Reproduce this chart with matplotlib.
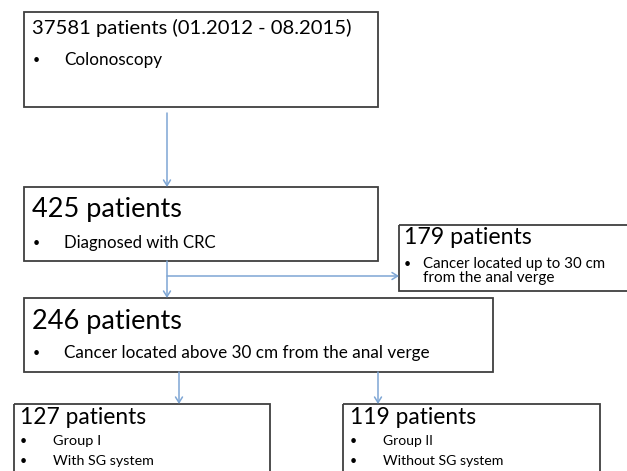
import matplotlib
matplotlib.use("Agg")
import matplotlib.pyplot as plt
from matplotlib.patches import Rectangle, FancyArrowPatch

W, H = 627, 471
plt.rcParams['font.family'] = ['Lato', 'DejaVu Sans']

# Flowchart content
counts = [37581, 425, 179, 246, 127, 119]
headers = ["37581 patients (01.2012 - 08.2015)", "425 patients", "179 patients",
           "246 patients", "127 patients", "119 patients"]
bullets = [["Colonoscopy"],
           ["Diagnosed with CRC"],
           ["Cancer located up to 30 cm", "from the anal verge"],
           ["Cancer located above 30 cm from the anal verge"],
           ["Group I", "With SG system"],
           ["Group II", "Without SG system"]]
# whether a line begins with a bullet mark
bullet_marks = [[True], [True], [True, False], [True], [True, True], [True, True]]

# layout (pixels)
boxes = [(24, 12, 378, 107), (24, 187, 378, 261), (399, 225, 632, 291),
         (24, 298, 493, 372), (14, 404, 270, 480), (343, 404, 600, 480)]
# header: x start, y center, x end
head_pos = [(32, 28, 351), (32, 210, 181), (404, 238, 531),
            (32, 321, 181), (20, 418, 145), (350, 418, 475)]
# bullet lines: (y center, x end)
line_pos = [[(60, 162)], [(243, 215)], [(264, 604), (278, 555)],
            [(353, 428)], [(441, 101), (461, 153)], [(441, 433), (461, 504)]]
bullet_x = [(33, 64), (33, 64), (404, 423), (33, 64), (20, 53), (350, 383)]
arrows = [((167, 113), (167, 187)), ((167, 261), (167, 298)),
          ((167, 276), (399, 276)), ((179, 372), (179, 404)),
          ((378, 372), (378, 404))]

fig = plt.figure(figsize=(W / 100, H / 100), dpi=100)
ax = fig.add_axes([0, 0, 1, 1])
ax.set_xlim(0, W)
ax.set_ylim(H, 0)
ax.axis('off')
renderer = fig.canvas.get_renderer()


def fit_text(x, y, s, x_end, fs0=12):
    t = ax.text(x, y, s, fontsize=fs0, va='center', ha='left', color='black')
    w = t.get_window_extent(renderer).width
    if w > 0:
        t.set_fontsize(fs0 * (x_end - x) / w)
    return t


for (x0, y0, x1, y1) in boxes:
    ax.add_patch(Rectangle((x0, y0), x1 - x0, y1 - y0, fill=False,
                           edgecolor='#3f3f3f', linewidth=1.3))

for (p0, p1) in arrows:
    ax.add_patch(FancyArrowPatch(p0, p1, arrowstyle='->,head_length=4,head_width=2.5',
                                 color='#7ea6d4', linewidth=1.1,
                                 shrinkA=0, shrinkB=0, mutation_scale=1))

for i, h in enumerate(headers):
    x, y, xe = head_pos[i]
    fit_text(x, y, h, xe)
    bx, tx = bullet_x[i]
    for (yy, xe2), txt, mark in zip(line_pos[i], bullets[i], bullet_marks[i]):
        if mark:
            ax.text(bx, yy, "•", fontsize=9, va='center', ha='left', color='black')
        fit_text(tx, yy, txt, xe2)

fig.savefig("out.png", dpi=100)
